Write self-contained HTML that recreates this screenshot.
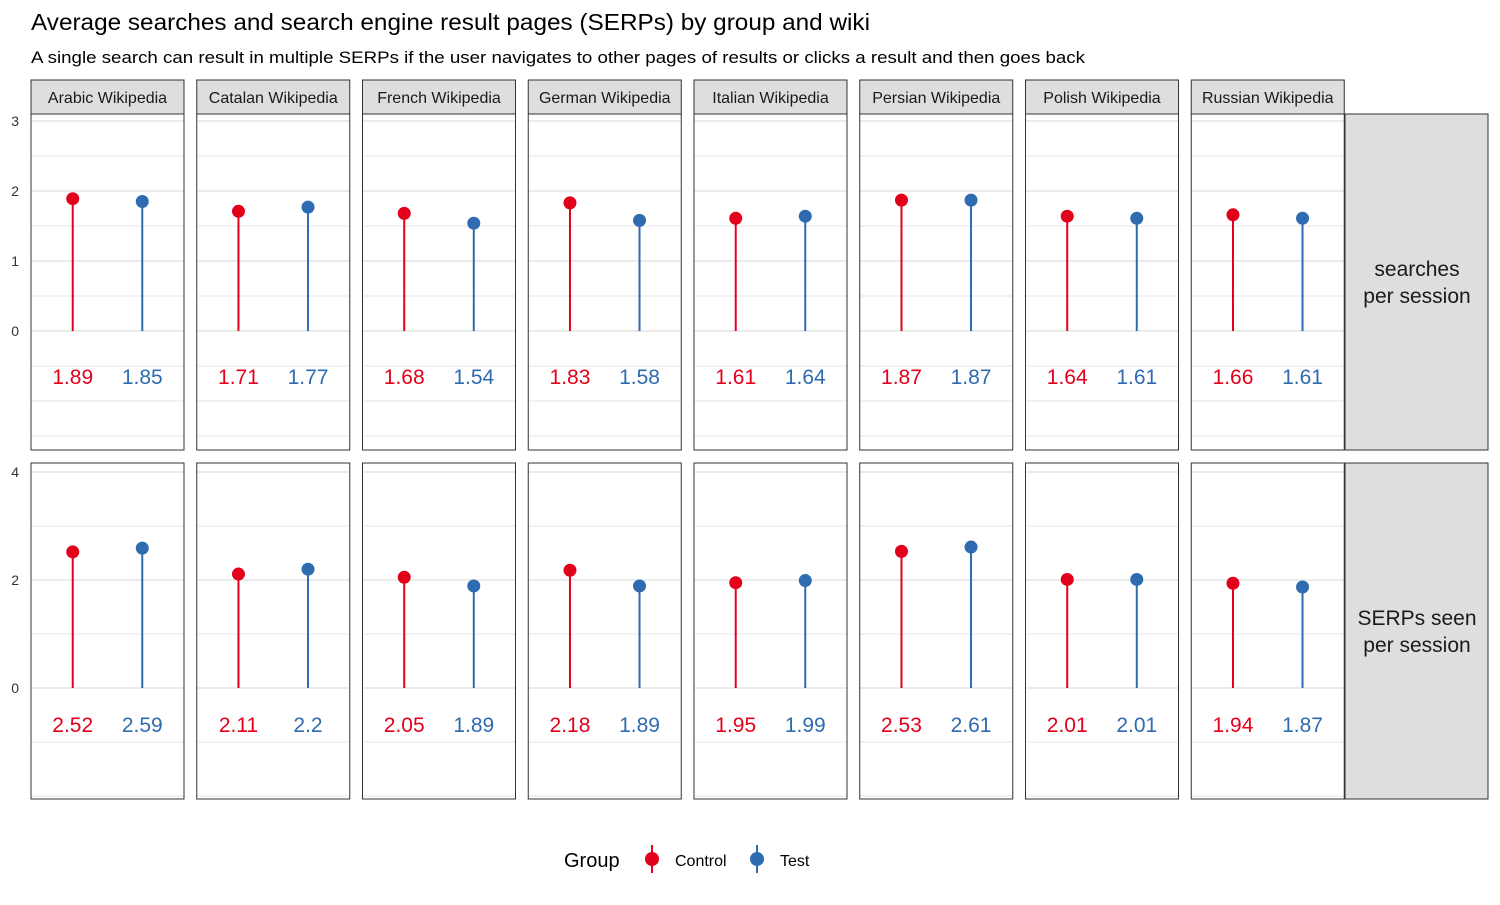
<!DOCTYPE html>
<html><head><meta charset="utf-8">
<style>
html,body{margin:0;padding:0;background:#fff;}
svg text{font-family:"Liberation Sans",sans-serif;}
</style></head>
<body>
<svg id="chart" width="1500" height="900" xmlns="http://www.w3.org/2000/svg">
<text x="31" y="30" font-size="23" fill="#000" textLength="839" lengthAdjust="spacingAndGlyphs">Average searches and search engine result pages (SERPs) by group and wiki</text>
<text x="31" y="63" font-size="17" fill="#000" textLength="1054" lengthAdjust="spacingAndGlyphs">A single search can result in multiple SERPs if the user navigates to other pages of results or clicks a result and then goes back</text>
<g id="plot"></g>
<g>
<text x="564" y="867" font-size="20" fill="#000">Group</text>
<line x1="652" y1="845" x2="652" y2="873" stroke="#e3001b" stroke-width="2"/>
<circle cx="652" cy="859" r="7" fill="#e3001b"/>
<text x="675" y="866" font-size="16" fill="#000">Control</text>
<line x1="757" y1="845" x2="757" y2="873" stroke="#2e6bb0" stroke-width="2"/>
<circle cx="757" cy="859" r="7" fill="#2e6bb0"/>
<text x="780" y="866" font-size="16" fill="#000">Test</text>
</g>
</svg>
<script>
const wikis = ["Arabic Wikipedia","Catalan Wikipedia","French Wikipedia","German Wikipedia","Italian Wikipedia","Persian Wikipedia","Polish Wikipedia","Russian Wikipedia"];
const searchesControl = [1.89,1.71,1.68,1.83,1.61,1.87,1.64,1.66];
const searchesTest = [1.85,1.77,1.54,1.58,1.64,1.87,1.61,1.61];
const serpsControl = [2.52,2.11,2.05,2.18,1.95,2.53,2.01,1.94];
const serpsTest = [2.59,2.2,1.89,1.89,1.99,2.61,2.01,1.87];
const searchesTicks = [0,1,2,3];
const serpsTicks = [0,2,4];
const rowLabels = [["searches","per session"],["SERPs seen","per session"]];

const NS="http://www.w3.org/2000/svg";
const g=document.getElementById('plot');
function el(tag,attrs,parent){const e=document.createElementNS(NS,tag);for(const k in attrs)e.setAttribute(k,attrs[k]);(parent||g).appendChild(e);return e;}
const RED="#e3001b", BLUE="#2e6bb0";
const panelX0=31, panelStep=165.75, panelW=153;
const rows=[
 {top:114,bot:450,y0:331,ppu:70,ticks:searchesTicks,gridMin:-1.5,gridMax:3,gridStep:0.5,ctrl:searchesControl,test:searchesTest,labY:-0.64,fmt:v=>String(v)},
 {top:463,bot:799,y0:688,ppu:54,ticks:serpsTicks,gridMin:-2,gridMax:4,gridStep:1,ctrl:serpsControl,test:serpsTest,labY:-0.67,fmt:v=>String(v)}
];
function xScale(i,grp){return panelX0+i*panelStep+(0.6+grp*1)*(panelW/2.2);}
rows.forEach((r,ri)=>{
  const y=v=>r.y0-v*r.ppu;
  r.ticks.forEach(t=>{
    const tx=el('text',{x:19,y:y(t)+5,'font-size':14,'text-anchor':'end',fill:'#333'});
    tx.textContent=t;
    
    
  });
  wikis.forEach((w,i)=>{
    const px=panelX0+i*panelStep;
    const pg=el('g',{});
    
    
    el('rect',{x:px,y:r.top,width:panelW,height:r.bot-r.top,fill:'#fff'},pg);
    for(let v=r.gridMin;v<=r.gridMax+1e-9;v+=r.gridStep){
      const major=r.ticks.includes(v);
      el('line',{x1:px,x2:px+panelW,y1:y(v),y2:y(v),stroke:'#ebebeb','stroke-width':major?2:1.2},pg);
    }
    [[r.ctrl[i],RED,0],[r.test[i],BLUE,1]].forEach(([v,c,grp])=>{
      const cx=xScale(i,grp);
      const ln=el('line',{x1:cx,x2:cx,y1:y(0),y2:y(v),stroke:c,'stroke-width':2},pg);
      
      
      const pt=el('circle',{cx:cx,cy:y(v),r:6.5,fill:c},pg);
      
      
      const lb=el('text',{x:cx,y:y(r.labY)+8,'font-size':21,'text-anchor':'middle',fill:c},pg);
      lb.textContent=r.fmt(v);
      
      
    });
    el('rect',{x:px,y:r.top,width:panelW,height:r.bot-r.top,fill:'none',stroke:'#333','stroke-width':1},pg);
    if(ri===0){
      const sg=el('g',{});
      
      
      el('rect',{x:px,y:80,width:panelW,height:34,fill:'#dedede',stroke:'#333','stroke-width':1},sg);
      const st=el('text',{x:px+panelW/2,y:103,'font-size':16,'text-anchor':'middle',fill:'#1a1a1a'},sg);
      st.textContent=w;
    }
  });
  const rg=el('g',{});
  
  
  el('rect',{x:1345,y:r.top,width:143,height:r.bot-r.top,fill:'#dedede',stroke:'#333','stroke-width':1},rg);
  const mid=(r.top+r.bot)/2;
  rowLabels[ri].forEach((t,k)=>{
    const tx=el('text',{x:1417,y:mid-6+k*27,'font-size':21,'text-anchor':'middle',fill:'#1a1a1a'},rg);
    tx.textContent=t;
  });
});
</script>
</body></html>
